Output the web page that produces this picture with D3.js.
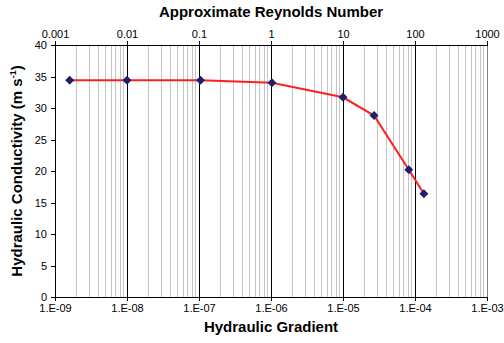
<!DOCTYPE html>
<html>
<head>
<meta charset="utf-8">
<script src="https://cdn.jsdelivr.net/npm/d3@7"></script>
<style>
body { margin:0; background:#fff; }
text { font-family: "Liberation Sans", Arial, sans-serif; }
.tick text { font-size:11px; fill:#000; }
.title { font-size:15px; font-weight:bold; }
.grid line, .domain, .tick line { shape-rendering: crispEdges; }
</style>
</head>
<body>
<svg id="chart"></svg>
<script>
var gradient = [1.6e-9, 1e-8, 1.05e-7, 1.03e-6, 1e-5, 2.7e-5, 8.2e-5, 1.33e-4];
var conductivity = [34.4, 34.4, 34.4, 34.0, 31.7, 28.8, 20.2, 16.4];
var bottomTicks = [1e-9, 1e-8, 1e-7, 1e-6, 1e-5, 1e-4, 1e-3];
var bottomLabels = ["1.E-09", "1.E-08", "1.E-07", "1.E-06", "1.E-05", "1.E-04", "1.E-03"];
var topTicks = [0.001, 0.01, 0.1, 1, 10, 100, 1000];
var topLabels = ["0.001", "0.01", "0.1", "1", "10", "100", "1000"];
var yTicks = [0, 5, 10, 15, 20, 25, 30, 35, 40];

var screen = {width:504, height:343}
var margins = {top:45, bottom:46, left:55, right:17}
var graph = {
    width: screen.width - margins.left - margins.right,
    height: screen.height - margins.top - margins.bottom
}
var svg = d3.select("#chart")
    .attr("width", screen.width)
    .attr("height", screen.height)

var xScale = d3.scaleLog().domain([1e-9, 1e-3]).range([0, graph.width])
var xTop = d3.scaleLog().domain([0.001, 1000]).range([0, graph.width])
var yScale = d3.scaleLinear().domain([0, 40]).range([graph.height, 0])

var g = svg.append("g")
    .attr("transform", "translate(" + margins.left + "," + margins.top + ")")

// minor grid lines
var minor = []
bottomTicks.slice(0, -1).forEach(function(d) {
    for (var k = 2; k <= 9; k++) minor.push(d * k)
})
g.append("g").classed("grid", true).selectAll("line")
    .data(minor).enter().append("line")
    .attr("x1", function(d){ return xScale(d) })
    .attr("x2", function(d){ return xScale(d) })
    .attr("y1", 0).attr("y2", graph.height)
    .attr("stroke", "#c4c4c4").attr("stroke-width", 1)

// decade grid lines
g.append("g").classed("grid", true).selectAll("line")
    .data(bottomTicks.slice(1)).enter().append("line")
    .attr("x1", function(d){ return xScale(d) })
    .attr("x2", function(d){ return xScale(d) })
    .attr("y1", 0).attr("y2", graph.height)
    .attr("stroke", function(d, i){ return i == bottomTicks.length - 2 ? "#808080" : "#000" })
    .attr("stroke-width", 1)

// axes
var xAxis = d3.axisBottom(xScale)
    .tickValues(bottomTicks)
    .tickFormat(function(d, i){ return bottomLabels[i] })
    .tickSize(4).tickPadding(3)
var topAxis = d3.axisTop(xTop)
    .tickValues(topTicks)
    .tickFormat(function(d, i){ return topLabels[i] })
    .tickSize(4).tickPadding(3)
var yAxis = d3.axisLeft(yScale)
    .tickValues(yTicks)
    .tickSize(4).tickPadding(4)

g.append("g").attr("transform", "translate(0," + graph.height + ")").call(xAxis)
g.append("g").call(topAxis)
g.append("g").call(yAxis)
g.selectAll(".domain").attr("stroke", "#000")
g.selectAll(".tick line").attr("stroke", "#000")

// line + points
var line = d3.line()
    .x(function(d, i){ return xScale(gradient[i]) })
    .y(function(d){ return yScale(d) })
g.append("path")
    .datum(conductivity)
    .attr("d", line)
    .attr("fill", "none")
    .attr("stroke", "#ff1f1f")
    .attr("stroke-width", 2)

g.selectAll(".pt")
    .data(conductivity).enter().append("path")
    .classed("pt", true)
    .attr("d", d3.symbol().type(d3.symbolSquare).size(40))
    .attr("transform", function(d, i){ return "translate(" + xScale(gradient[i]) + "," + yScale(d) + ") rotate(45)" })
    .attr("fill", "#1f1f6e")

// labels
svg.append("text").classed("title", true)
    .attr("text-anchor", "middle")
    .attr("x", margins.left + graph.width / 2).attr("y", 17)
    .text("Approximate Reynolds Number")
svg.append("text").classed("title", true)
    .attr("text-anchor", "middle")
    .attr("x", margins.left + graph.width / 2).attr("y", 332)
    .text("Hydraulic Gradient")
var yl = svg.append("text").classed("title", true)
    .attr("text-anchor", "middle")
    .attr("transform", "translate(22," + (margins.top + graph.height / 2) + ") rotate(-90)")
yl.append("tspan").text("Hydraulic Conductivity (m s")
yl.append("tspan").attr("dy", -6).attr("font-size", "9px").text("-1")
yl.append("tspan").attr("dy", 6).text(")")
</script>
</body>
</html>
